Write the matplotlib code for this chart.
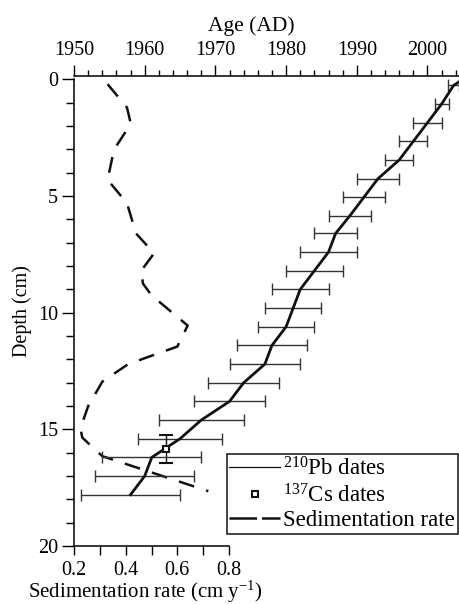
import matplotlib
matplotlib.use('Agg')
import matplotlib.pyplot as plt
from matplotlib.lines import Line2D
from matplotlib.ticker import MultipleLocator

# 210Pb dates (depth in cm, age AD, +/- error in years)
pb_depth = [0.25, 1.05, 1.85, 2.65, 3.45, 4.25, 5.05, 5.85, 6.6, 7.4, 8.2, 9.0,
            9.8, 10.6, 11.4, 12.2, 13.0, 13.8, 14.6, 15.4, 16.2, 17.0, 17.8]
pb_age = [2003.7, 2002.0, 2000.0, 1998.0, 1996.0, 1993.0, 1991.0, 1989.0, 1987.0, 1986.0, 1984.0, 1982.0,
          1981.0, 1980.0, 1978.0, 1977.0, 1974.0, 1972.0, 1968.0, 1965.0, 1961.0, 1960.0, 1958.0]
pb_err = [0.8, 1, 2, 2, 2, 3, 3, 3, 3, 4, 4, 4,
          4, 4, 5, 5, 5, 5, 6, 6, 7, 7, 7]

# core top (sampling year)
top_depth = [0.0]
top_age = [2005.0]

# 137Cs peak
cs_depth = [15.85]
cs_age = [1963.0]
cs_err = [0.6]

# sedimentation rate (cm/yr)
sr_depth = [0.2, 1.2, 1.9, 3.0, 4.3, 5.3, 6.6, 7.45, 8.2, 8.75, 9.25, 10.55, 11.45, 12.2,
            12.95, 14.0, 14.95, 15.35, 15.75, 16.15, 17.65]
sr_rate = [0.33, 0.405, 0.42, 0.355, 0.33, 0.405, 0.44, 0.51, 0.46, 0.467, 0.50, 0.64, 0.60, 0.41,
           0.31, 0.255, 0.225, 0.232, 0.27, 0.31, 0.72]

legend_labels = [r'$^{210}$Pb dates', r'$^{137}$Cs dates', 'Sedimentation rate']


def setup_fonts():
    plt.rcParams['font.family'] = ['Liberation Serif', 'DejaVu Serif']
    plt.rcParams['mathtext.fontset'] = 'custom'
    plt.rcParams['mathtext.rm'] = 'Liberation Serif'
    plt.rcParams['mathtext.it'] = 'Liberation Serif:italic'
    plt.rcParams['mathtext.bf'] = 'Liberation Serif:bold'


def main(save_file):
    setup_fonts()
    tick_fs = 14.5

    fig = plt.figure(figsize=(4.6, 6.04), dpi=100)
    ax = fig.add_axes([74 / 460, 1 - 546 / 604, 386 / 460, 470 / 604])
    ax2 = ax.twiny()

    # sedimentation rate on bottom axis
    ax.plot(sr_rate, sr_depth, color='#111111', lw=1.8, ls=(0, (6.4, 5.0)))
    ax.set_xlim(0.2, 1.694)
    ax.set_ylim(20, -0.15)

    # ages on top axis
    ax2.errorbar(pb_age, pb_depth, xerr=pb_err, fmt='none', ecolor='#333333', elinewidth=1,
                 capsize=4.5, capthick=1, zorder=2)
    ax2.plot(top_age + pb_age, top_depth + pb_depth, color='#111111', lw=2, zorder=3)
    ax2.errorbar(cs_age, cs_depth, yerr=cs_err, fmt='s', mfc='white', mec='#111111', mew=1.5, ms=5,
                 ecolor='#111111', elinewidth=1, capsize=5, capthick=1, zorder=4)
    ax2.set_xlim(1950, 2004.6)

    # spines
    for s in ['top', 'right']:
        ax.spines[s].set_visible(False)
    for s in ['bottom', 'left', 'right']:
        ax2.spines[s].set_visible(False)
    ax.spines['left'].set_bounds(0, 20)
    ax.spines['bottom'].set_bounds(0.2, 0.8)
    for sp in [ax.spines['left'], ax.spines['bottom'], ax2.spines['top']]:
        sp.set_linewidth(1.1)

    # ticks
    ax.set_xticks([0.2, 0.4, 0.6, 0.8])
    ax.set_xticks([0.3, 0.5, 0.7], minor=True)
    ax.set_yticks([0, 5, 10, 15, 20])
    ax.set_yticks([v for v in range(1, 20) if v % 5], minor=True)
    ax.tick_params(axis='x', which='both', direction='out', length=6.5, width=1, pad=4, labelsize=tick_fs)
    ax.tick_params(axis='y', which='major', direction='out', length=8.5, width=1, pad=3, labelsize=tick_fs)
    ax.tick_params(axis='y', which='minor', direction='out', length=5.5, width=1)

    ax2.set_xticks(range(1950, 2001, 10))
    ax2.xaxis.set_minor_locator(MultipleLocator(2))
    ax2.tick_params(axis='x', which='major', direction='out', length=8, width=1, pad=3.5, labelsize=tick_fs)
    ax2.tick_params(axis='x', which='minor', direction='out', length=4.5, width=1)

    # labels
    ax.set_ylabel('Depth (cm)', fontsize=14.5)
    ax.yaxis.set_label_coords(-0.11, 0.5)
    ax.set_xlabel(r'Sedimentation rate (cm y$^{-1}$)', fontsize=15)
    ax.xaxis.set_label_coords(0.184, -0.07)
    ax2.set_xlabel('Age (AD)', fontsize=15.5)
    ax2.xaxis.set_label_coords(0.46, 1.096)

    # legend
    handles = [Line2D([], [], color='#111111', lw=0.9),
               Line2D([], [], ls='none', marker='s', mfc='white', mec='#111111', mew=1.5, ms=5),
               Line2D([], [], color='#111111', lw=1.8, ls=(0, (11, 2)))]
    leg = ax2.legend(handles, legend_labels, loc='lower right', bbox_to_anchor=(0.994, 0.025),
                     fontsize=16.5, frameon=True, fancybox=False, edgecolor='#111111', framealpha=1,
                     handlelength=2.2, handletextpad=0.15, borderpad=0.12, labelspacing=0.15,
                     borderaxespad=0)
    leg.get_frame().set_linewidth(1.1)

    plt.savefig(save_file, dpi=100)
    plt.close('all')


if __name__ == '__main__':
    main('out.png')
